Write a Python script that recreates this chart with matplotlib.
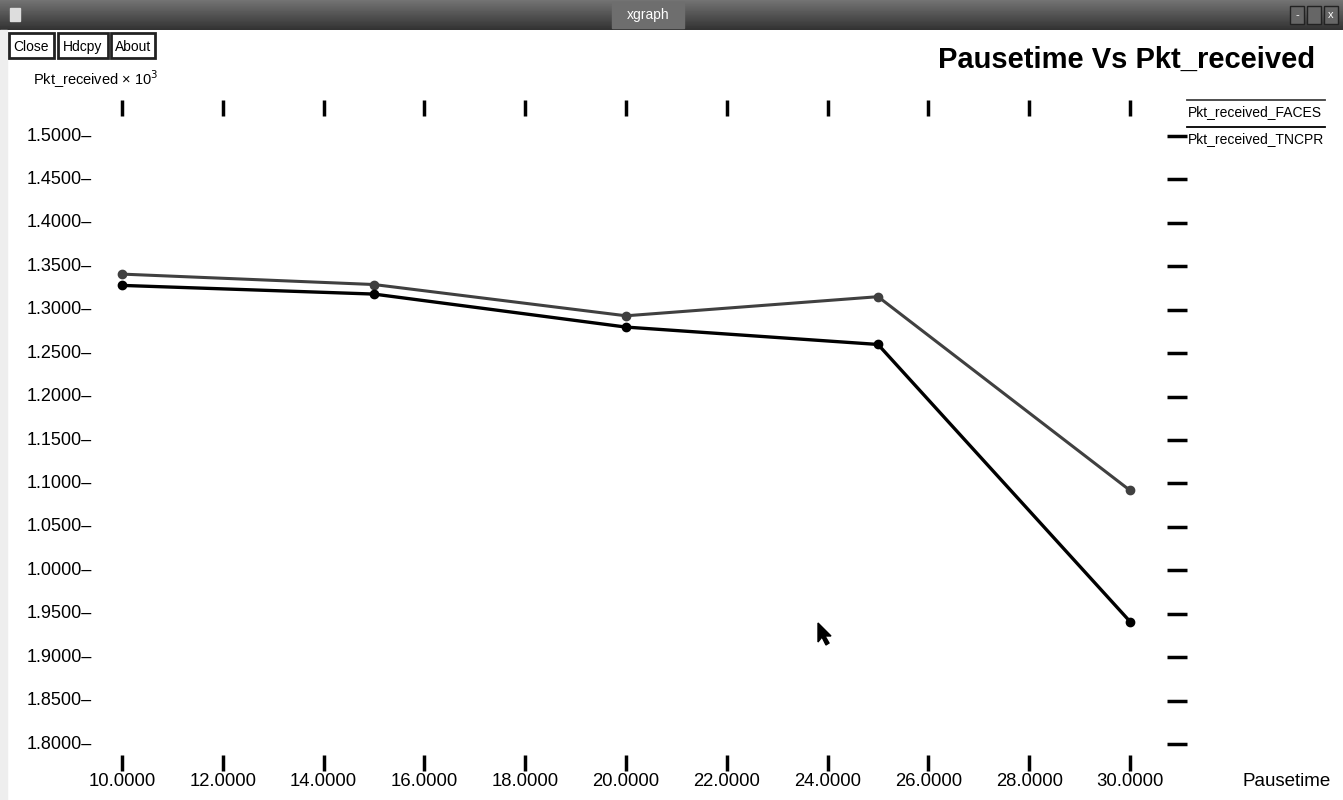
import matplotlib.pyplot as plt
from matplotlib.patches import Rectangle, Polygon
from matplotlib.transforms import blended_transform_factory
import numpy as np

plt.rcParams['font.family'] = ['Liberation Sans', 'DejaVu Sans']

# data (Pkt_received x 10^3)
pausetime = [10, 15, 20, 25, 30]
faces = [1.341, 1.329, 1.293, 1.315, 1.092]
tncpr = [1.328, 1.318, 1.280, 1.260, 0.941]

xticks = np.arange(10, 31, 2)
xlabels = ["%.4f" % v for v in xticks]
yticks = np.round(np.arange(0.80, 1.501, 0.05), 2)
# xgraph prints the values below 1 oddly
ylabels = ["1.8000", "1.8500", "1.9000", "1.9500", "1.0000", "1.0500", "1.1000",
           "1.1500", "1.2000", "1.2500", "1.3000", "1.3500", "1.4000", "1.4500", "1.5000"]

W, H = 1343, 800
fig = plt.figure(figsize=(W / 100, H / 100), dpi=100)

# window chrome
bar = fig.add_axes([0, 1 - 30 / H, 1, 30 / H])
bar.imshow(np.linspace(0.45, 0.2, 30).reshape(-1, 1), cmap='gray', aspect='auto',
           vmin=0, vmax=1, extent=[0, 1, 0, 1])
bar.set_axis_off()
bar.add_patch(Rectangle((612 / W, 0.08), 72 / W, 0.84, color='#6e6e6e'))
bar.text(648 / W, 0.5, "xgraph", color='white', ha='center', va='center', fontsize=10)
bar.add_patch(Rectangle((10 / W, 0.3), 10 / W, 0.45, color='#dddddd'))
for bx in [1297, 1314, 1331]:
    bar.add_patch(Rectangle((bx / W - 7 / W, 0.2), 14 / W, 0.6, facecolor='#666666',
                            edgecolor='#222222', lw=1))
bar.text(1297 / W, 0.5, "-", color='white', ha='center', va='center', fontsize=8)
bar.text(1331 / W, 0.5, "x", color='white', ha='center', va='center', fontsize=8)

fig.patches.append(Rectangle((0, 0), 7 / W, 1 - 30 / H, transform=fig.transFigure,
                             color='#eeeeee', zorder=0))

for label, x0, x1 in [("Close", 9, 54), ("Hdcpy", 58, 108), ("About", 111, 155)]:
    fig.patches.append(Rectangle((x0 / W, 1 - 58 / H), (x1 - x0) / W, 25 / H,
                                 transform=fig.transFigure, facecolor='white',
                                 edgecolor='#222222', lw=2))
    fig.text((x0 + x1) / 2 / W, 1 - 47 / H, label, ha='center', va='center', fontsize=10)

# plot area: x 10 -> 122px, 30 -> 1130px ; y 1.5 -> 136px, 0.8 -> 744px
left, right, top, bottom = 122, 1130, 136, 744
ax = fig.add_axes([left / W, 1 - bottom / H, (right - left) / W, (bottom - top) / H])
ax.set_xlim(10, 30)
ax.set_ylim(0.80, 1.50)
ax.set_axis_off()

ax.plot(pausetime, faces, color='#404040', lw=2.2, marker='o', ms=6, clip_on=False)
ax.plot(pausetime, tncpr, color='black', lw=2.4, marker='o', ms=6, clip_on=False)

bt = blended_transform_factory(ax.transData, ax.transAxes)
bt2 = blended_transform_factory(ax.transAxes, ax.transData)
fy_top = (bottom - 108) / (bottom - top)
fy_bot = (bottom - 763) / (bottom - top)
fy_lab = (bottom - 781) / (bottom - top)
ax.plot(xticks, [fy_top] * len(xticks), '|', color='black', ms=11, mew=2.5,
        transform=bt, clip_on=False)
ax.plot(xticks, [fy_bot] * len(xticks), '|', color='black', ms=11, mew=2.5,
        transform=bt, clip_on=False)
for x, s in zip(xticks, xlabels):
    ax.text(x, fy_lab, s, transform=bt, ha='center', va='center', fontsize=13.3)

fx_right = (1177 - left) / (right - left)
fx_lab = (92 - left) / (right - left)
ax.plot([fx_right] * len(yticks), yticks, '_', color='black', ms=14, mew=2.5,
        transform=bt2, clip_on=False)
for y, s in zip(yticks, ylabels):
    ax.text(fx_lab, y, s + "\u2013", transform=bt2, ha='right', va='center', fontsize=13)

# mouse pointer left in the screenshot
fig.patches.append(Polygon([(818 / W, 1 - 623 / H), (818 / W, 1 - 642 / H),
                            (822 / W, 1 - 637 / H), (826 / W, 1 - 645 / H),
                            (829 / W, 1 - 643 / H), (825 / W, 1 - 636 / H),
                            (831 / W, 1 - 636 / H)],
                           closed=True, transform=fig.transFigure, color='black'))

# titles and labels
fig.text(1315 / W, 1 - 60 / H, "Pausetime Vs Pkt_received", ha='right', va='center',
         fontsize=21, fontweight='bold')
fig.text(33 / W, 1 - 79 / H, "Pkt_received \u00d7 10$^3$", ha='left', va='center',
         fontsize=10.5)
fig.text(1243 / W, 1 - 781 / H, "Pausetime", ha='left', va='center', fontsize=13.5)

# legend
for name, ly, col in [("Pkt_received_FACES", 100, '#404040'),
                      ("Pkt_received_TNCPR", 127, 'black')]:
    fig.add_artist(plt.Line2D([1187 / W, 1325 / W], [1 - ly / H, 1 - ly / H],
                              transform=fig.transFigure, color=col, lw=1.3))
    fig.text(1188 / W, 1 - (ly + 12) / H, name, ha='left', va='center', fontsize=10)

fig.savefig("out.png", dpi=100)
